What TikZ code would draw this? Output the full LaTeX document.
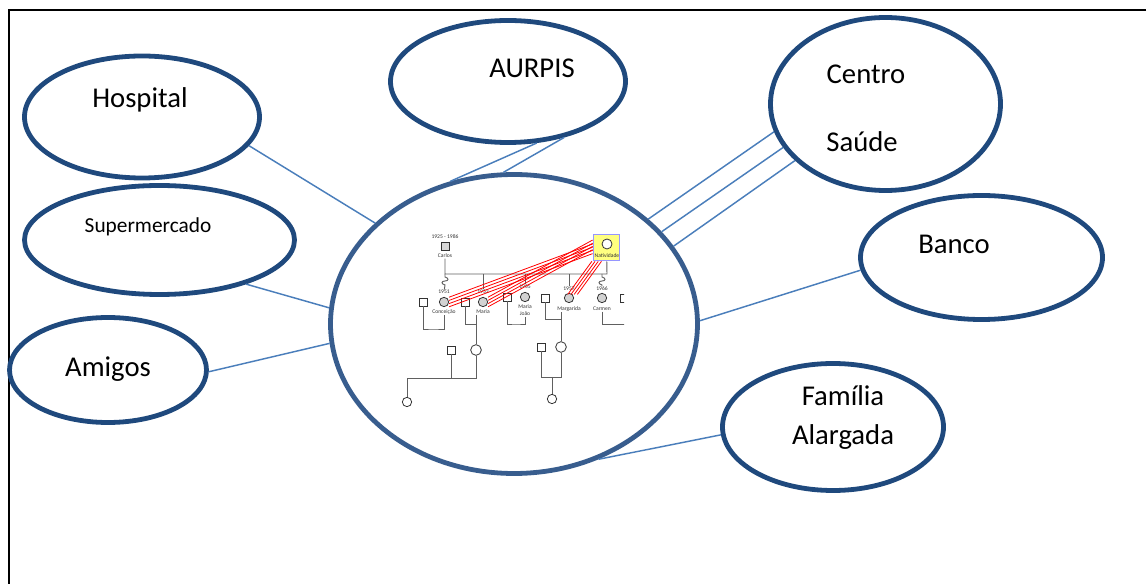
\documentclass[tikz,border=0pt]{standalone}
\usepackage{fontspec}
\setmainfont{Carlito}
\usetikzlibrary{shapes.geometric}
\definecolor{ringblue}{RGB}{31,73,125}
\definecolor{hubblue}{RGB}{56,93,142}
\definecolor{linkblue}{RGB}{74,126,187}
\definecolor{natyellow}{RGB}{255,255,128}
\definecolor{natframe}{RGB}{150,150,255}
\tikzset{bubble/.style={ellipse, draw=ringblue, line width=3.6pt, inner sep=0pt}}
\tikzset{ellsize/.style 2 args={minimum width=#1*0.75pt, minimum height=#2*0.75pt}}
\tikzset{link/.style={draw=linkblue, line width=1.1pt}}
\tikzset{btext/.style={font=\fontsize{21.5}{24}\selectfont, inner sep=0pt}}
\tikzset{gline/.style={draw=gray!75!black, line width=0.7pt}}
\tikzset{gsq/.style={rectangle, draw=black!80, line width=0.6pt, fill=white, minimum size=6pt, inner sep=0pt}}
\tikzset{gcir/.style={circle, draw=black!80, line width=0.6pt, fill=white, minimum size=7pt, inner sep=0pt}}
\tikzset{gtext/.style={font=\fontsize{4.2}{4.6}\selectfont, text=black!80, inner sep=0.3pt}}
\tikzset{redtie/.style={draw=red, line width=0.6pt}}

\begin{document}
\begin{tikzpicture}[x=0.75pt, y=-0.75pt]
      \useasboundingbox (0,0) rectangle (1147,584);
      \draw[line width=1.5pt] (1146,10) -- (9,10) -- (9,584);

      \node[bubble, ellsize={235}{122}] (hosp) at (142,117) {};
      \node[bubble, ellsize={235}{122}] (aurp) at (508,81.5) {};
      \node[bubble, ellsize={230}{173}] (cs) at (885.5,104) {};
      \node[bubble, ellsize={270}{109}] (super) at (159.5,240) {};
      \node[bubble, ellsize={242}{124}] (banco) at (981.5,257.5) {};
      \node[bubble, ellsize={197}{105}] (amig) at (108,370) {};
      \node[bubble, ellsize={221}{127}] (fam) at (833,427) {};
      \node[bubble, draw=hubblue, ellsize={367}{299}] (hub) at (514,324) {};

      \node[btext] (hospT) at (140,100) {Hospital};
      \node[btext] (aurpT) at (532,68) {AURPIS};
      \node[btext] (csT1) at (866,74) {Centro};
      \node[btext] (csT2) at (862,142) {Saúde};
      \node[btext, font=\fontsize{16}{18}\selectfont] (superT) at (148,227) {Supermercado};
      \node[btext] (bancoT) at (954,244) {Banco};
      \node[btext] (amigT) at (108,369) {Amigos};
      \node[btext] (famT1) at (843,396) {Família};
      \node[btext] (famT2) at (843,437) {Alargada};

      \draw[link] (hosp.-15) -- (hub.144);
      \draw[link] (aurp.-65) -- (hub.114);
      \draw[link] (aurp.-45) -- (hub.94);
      \draw[link] (cs.-166) -- (hub.38.6);
      \draw[link] (cs.-157.5) -- (hub.32.2);
      \draw[link] (cs.-148) -- (hub.26.4);
      \draw[link] (super.-27) -- (hub.175.7);
      \draw[link] (amig.-1) -- (hub.-174);
      \draw[link] (banco.-174.4) -- (hub.1.2);
      \draw[link] (fam.-176) -- (hub.-58);

      \begin{scope}
      \clip (400,228) rectangle (624,410);
      \node[gtext] (carlosY) at (445,237) {1925 - 1986};
      \node[gsq, fill=gray!30] (carlos) at (445,246) {};
      \node[gtext] (carlosN) at (445,256) {Carlos};
      \node[rectangle, draw=natframe, fill=natyellow, line width=0.8pt, minimum size=20pt, inner sep=0pt] (natbox) at (606.5,247.5) {};
      \node[gcir, minimum size=7.5pt] (natC) at (607,244) {};
      \node[gtext] (natN) at (607,256) {Natividade};
      \coordinate (sibL) at (445,274);
      \coordinate (sibR) at (607,274);
      \draw[gline] (carlosN) -- (sibL) -- (sibR) -- (natbox);

      \node[gtext] (conY) at (444,292) {1951};
      \node[gcir, fill=gray!35] (con) at (444,302) {};
      \node[gtext] (conN) at (444,312) {Conceição};
      \node[gsq] (conS) at (423,302) {};
      \node[gtext] (maY) at (483,292) {1953};
      \node[gcir, fill=gray!35] (ma) at (483,302) {};
      \node[gtext] (maN) at (483,312) {Maria};
      \node[gsq] (maS) at (465,302) {};
      \node[gtext] (mjY) at (525,287) {1955};
      \node[gcir, fill=gray!35] (mj) at (525,297) {};
      \node[gtext] (mjN1) at (525,307) {Maria};
      \node[gtext] (mjN2) at (525,314) {João};
      \node[gsq] (mjS) at (507,297) {};
      \node[gtext] (mgY) at (569,289) {1957};
      \node[gcir, fill=gray!35] (mg) at (569,298) {};
      \node[gtext] (mgN) at (569,309) {Margarida};
      \node[gsq] (mgS) at (545,298) {};
      \node[gtext] (caY) at (602,289) {1966};
      \node[gcir, fill=gray!35] (ca) at (602,298) {};
      \node[gtext] (caN) at (602,309) {Carmen};
      \node[gsq] (caS) at (624,298) {};

      \draw[gline] (sibL) -- (445,277) .. controls (449,278) and (449,281) .. (445,281) .. controls (441,281) and (441,284) .. (445,285) -- (conY);
      \draw[gline] (sibR -| caY) -- (602,277) .. controls (606,278) and (606,281) .. (602,281) .. controls (598,281) and (598,284) .. (602,285) -- (caY);
      \draw[gline] (sibL -| maY) -- (maY);
      \draw[gline] (sibL -| mjY) -- (mjY);
      \draw[gline] (sibL -| mgY) -- (mgY);

      \coordinate (conM) at (433,329);
      \coordinate (maM) at (476,324);
      \coordinate (mjM) at (516,324);
      \coordinate (mgM) at (561,319);
      \coordinate (caM) at (630,324);
      \draw[gline] (conS) |- (conM) -| (conN);
      \draw[gline] (maS) |- (maM);
      \draw[gline] (mjS) |- (mjM) -| (mjN2);
      \draw[gline] (mgS) |- (mgM);
      \draw[gline] (caN) |- (caM);

      \node[gsq] (maH) at (451,350) {};
      \node[gcir, minimum size=8pt] (maD) at (476,350) {};
      \node[gcir] (maG) at (407,402) {};
      \coordinate (maB) at (407,378);
      \draw[gline] (maM |- maN.south) -- (maD);
      \draw[gline] (maG) -- (maB) -| (maD);
      \draw[gline] (maH) -- (maH |- maB);

      \node[gsq] (mgH) at (541,347) {};
      \node[gcir, minimum size=8pt] (mgD) at (561,347) {};
      \node[gcir] (mgG) at (552,399) {};
      \coordinate (mgB) at (541,377);
      \draw[gline] (mgM |- mgN.south) -- (mgD);
      \draw[gline] (mgH) -- (mgB) -| (mgD);
      \draw[gline] (mgB -| mgG) -- (mgG);

      \foreach \s in {-3.6,-1.2,1.2,3.6} {
        \draw[redtie] ([yshift=\s pt-1pt]natbox.west) -- ([yshift=\s pt]con.east);
        \draw[redtie] ([yshift=\s pt+2pt]natbox.west) -- ([yshift=\s pt]ma.east);
        \draw[redtie] ([xshift=\s pt+3pt]natbox.south west) -- ([xshift=\s pt]mg.north east);
      }
      \end{scope}
    \end{tikzpicture}
\end{document}
